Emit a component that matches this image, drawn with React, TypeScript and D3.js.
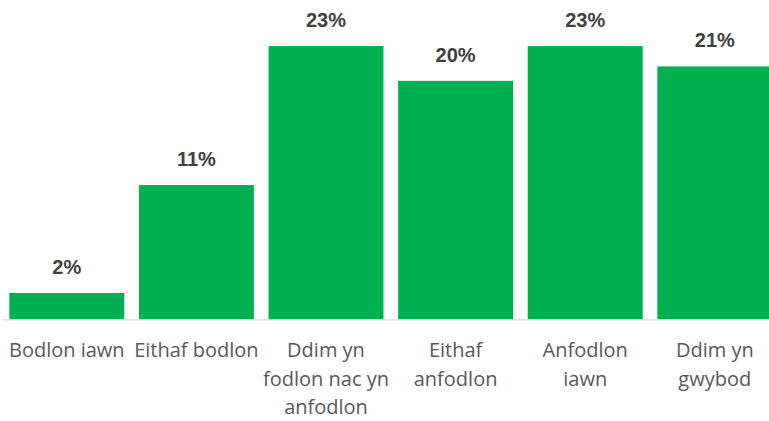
import React, { useEffect, useRef } from "react";
import * as d3 from "d3";

const categories = [
  "Bodlon iawn",
  "Eithaf bodlon",
  "Ddim yn fodlon nac yn anfodlon",
  "Eithaf anfodlon",
  "Anfodlon iawn",
  "Ddim yn gwybod",
];
const values = [2.2, 11.2, 22.8, 19.9, 22.8, 21.1];
const labels = ["2%", "11%", "23%", "20%", "23%", "21%"];

const W = 769;
const H = 421;

export default function App() {
  const ref = useRef<SVGSVGElement>(null);

  useEffect(() => {
    const svg = d3.select(ref.current);
    svg.selectAll("*").remove();

    const x = d3
      .scaleBand<string>()
      .domain(categories)
      .range([2, 779.6])
      .paddingInner(0.113)
      .paddingOuter(0.0565);
    const baseline = 319.3;
    const y = d3.scaleLinear().domain([0, 25]).range([baseline, baseline - 25 * 11.984]);

    const data = categories.map((c, i) => ({ c, v: values[i], l: labels[i] }));

    svg
      .selectAll("rect.bar")
      .data(data)
      .join("rect")
      .attr("class", "bar")
      .attr("x", (d) => x(d.c)!)
      .attr("width", x.bandwidth())
      .attr("y", (d) => y(d.v))
      .attr("height", (d) => y(0) - y(d.v))
      .attr("fill", "#00b050");

    svg
      .append("line")
      .attr("x1", 2)
      .attr("x2", W)
      .attr("y1", baseline + 0.5)
      .attr("y2", baseline + 0.5)
      .attr("stroke", "#d9d9d9")
      .attr("stroke-width", 1.3);

    svg
      .selectAll("text.val")
      .data(data)
      .join("text")
      .attr("class", "val")
      .attr("x", (d) => x(d.c)! + x.bandwidth() / 2)
      .attr("y", (d) => y(d.v) - 19)
      .attr("text-anchor", "middle")
      .attr("font-family", "Liberation Sans, Arial, sans-serif")
      .attr("font-weight", "bold")
      .attr("font-size", 20)
      .attr("fill", "#404040")
      .text((d) => d.l);

    // category labels with wrapping
    const font = "20px 'Open Sans'";
    const canvas = document.createElement("canvas");
    const ctx = canvas.getContext("2d")!;
    ctx.font = font;
    const maxW = x.step() - 2;
    const wrap = (s: string) => {
      const words = s.split(" ");
      const lines: string[] = [];
      let cur = "";
      for (const w of words) {
        const t = cur ? cur + " " + w : w;
        if (ctx.measureText(t).width > maxW && cur) {
          lines.push(cur);
          cur = w;
        } else cur = t;
      }
      if (cur) lines.push(cur);
      return lines;
    };

    const g = svg.append("g");
    data.forEach((d) => {
      const lines = wrap(d.c);
      const t = g
        .append("text")
        .attr("text-anchor", "middle")
        .attr("font-family", "'Open Sans', sans-serif")
        .attr("font-size", 20)
        .attr("fill", "#595959");
      lines.forEach((ln, i) => {
        t.append("tspan")
          .attr("x", x(d.c)! + x.bandwidth() / 2)
          .attr("y", 357 + i * 28.7)
          .text(ln);
      });
    });
  }, []);

  return (
    <svg
      ref={ref}
      width={W}
      height={H}
      style={{ position: "absolute", left: 0, top: 0, background: "#fff" }}
    />
  );
}
